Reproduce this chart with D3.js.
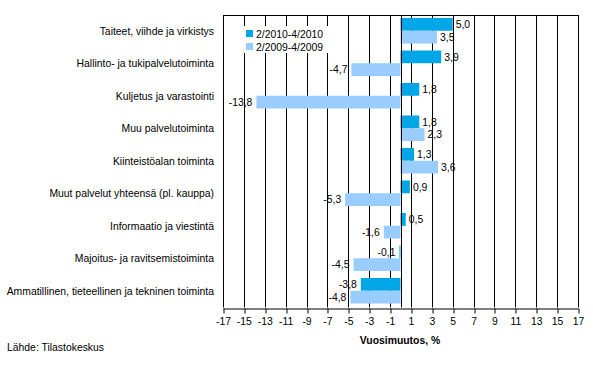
<!DOCTYPE html>
<html lang="fi">
  <head>
    <meta charset="UTF-8" />
    <title>Vuosimuutos</title>
    <script src="https://d3js.org/d3.v7.min.js"></script>
    <style>
      body { margin: 0; background: #fff; }
      svg text { font-family: "Liberation Sans", Arial, sans-serif; font-size: 10.4px; fill: #000; }
    </style>
  </head>
  <body>
    <script>
      let width = 593
      let height = 371

      // data
      let categories = [
        'Taiteet, viihde ja virkistys',
        'Hallinto- ja tukipalvelutoiminta',
        'Kuljetus ja varastointi',
        'Muu palvelutoiminta',
        'Kiinteistöalan toiminta',
        'Muut palvelut yhteensä (pl. kauppa)',
        'Informaatio ja viestintä',
        'Majoitus- ja ravitsemistoiminta',
        'Ammatillinen, tieteellinen ja tekninen toiminta'
      ]
      let seriesNames = ['2/2010-4/2010', '2/2009-4/2009']
      let values2010 = [5.0, 3.9, 1.8, 1.8, 1.3, 0.9, 0.5, -0.1, -3.8]
      let values2009 = [3.5, -4.7, -13.8, 2.3, 3.6, -5.3, -1.6, -4.5, -4.8]
      let tickValues = d3.range(-17, 18, 2)
      let colors = ['#00a6e6', '#99ccff']

      let plotLeft = 223, plotRight = 578, plotTop = 15, plotBottom = 307.5

      let x = d3.scaleLinear().domain([-17, 17]).range([plotLeft, plotRight])
      let y = d3.scaleBand().domain(categories).range([plotTop, plotBottom])
      let sub = d3.scaleBand().domain(seriesNames).range([3, y.bandwidth() - 4])

      let svg = d3.select('body').append('svg')
        .attr('width', width)
        .attr('height', height)

      // grid lines at every tick
      svg.append('g')
        .selectAll('line')
        .data(tickValues)
        .enter()
        .append('line')
        .attr('x1', d => Math.round(x(d)) + 0.5)
        .attr('x2', d => Math.round(x(d)) + 0.5)
        .attr('y1', plotTop)
        .attr('y2', plotBottom)
        .attr('stroke', '#000')

      svg.append('line')
        .attr('x1', plotLeft).attr('x2', plotRight + 1)
        .attr('y1', plotTop + 0.5).attr('y2', plotTop + 0.5)
        .attr('stroke', '#000')

      // legend box covers the grid
      let legend = svg.append('g')
      legend.append('rect')
        .attr('x', 240).attr('y', 26).attr('width', 90).attr('height', 27)
        .attr('fill', '#fff')
      legend.selectAll('g.item')
        .data(seriesNames)
        .enter()
        .append('g')
        .attr('class', 'item')
        .attr('transform', (d, i) => `translate(246, ${30 + i * 13})`)
        .each(function(d, i) {
          d3.select(this).append('rect')
            .attr('width', 7).attr('height', 7)
            .attr('fill', colors[i])
          d3.select(this).append('text')
            .attr('x', 10).attr('y', 4)
            .attr('dy', '0.35em')
            .text(d)
        })

      let rows = categories.map((c, i) => ({ cat: c, vals: [values2010[i], values2009[i]] }))

      let group = svg.append('g')
        .selectAll('g.row')
        .data(rows)
        .enter()
        .append('g')
        .attr('class', 'row')
        .attr('transform', d => `translate(0, ${y(d.cat)})`)

      let bar = group.selectAll('g.bar')
        .data(d => d.vals.map((v, i) => ({ v: v, s: seriesNames[i], i: i })))
        .enter()
        .append('g')
        .attr('class', 'bar')

      bar.append('rect')
        .attr('x', d => x(Math.min(0, d.v)))
        .attr('width', d => Math.abs(x(d.v) - x(0)))
        .attr('y', d => sub(d.s))
        .attr('height', sub.bandwidth())
        .attr('fill', d => colors[d.i])

      bar.append('text')
        .attr('x', d => d.v >= 0 ? x(d.v) + 3 : x(d.v) - 4)
        .attr('y', d => sub(d.s) + sub.bandwidth() / 2)
        .attr('dy', '0.35em')
        .attr('text-anchor', d => d.v >= 0 ? 'start' : 'end')
        .text(d => d.v.toFixed(1).replace('.', ','))

      // zero line
      svg.append('line')
        .attr('x1', Math.round(x(0)) + 0.5).attr('x2', Math.round(x(0)) + 0.5)
        .attr('y1', plotTop).attr('y2', plotBottom)
        .attr('stroke', '#000')

      // category labels
      svg.append('g')
        .selectAll('text')
        .data(categories)
        .enter()
        .append('text')
        .attr('x', 214)
        .attr('y', d => y(d) + y.bandwidth() / 2)
        .attr('dy', '0.35em')
        .attr('text-anchor', 'end')
        .text(d => d)

      // bottom axis
      let axis = svg.append('g')
        .attr('transform', `translate(0, ${Math.round(plotBottom) + 0.5})`)
        .call(d3.axisBottom(x).tickValues(tickValues).tickSize(5).tickPadding(4)
          .tickFormat(d => String(d)).tickSizeOuter(0))
      axis.select('.domain').attr('stroke', '#000')
      axis.selectAll('.tick line').attr('stroke', '#000')
        .attr('transform', d => `translate(${Math.round(x(d)) + 0.5 - x(d)},0)`)
      axis.selectAll('text').attr('font-family', null).attr('font-size', null)

      svg.append('text')
        .attr('x', 400).attr('y', 344)
        .attr('text-anchor', 'middle')
        .style('font-weight', 'bold')
        .text('Vuosimuutos, %')

      svg.append('text')
        .attr('x', 7).attr('y', 351)
        .text('Lähde: Tilastokeskus')
    </script>
  </body>
</html>
